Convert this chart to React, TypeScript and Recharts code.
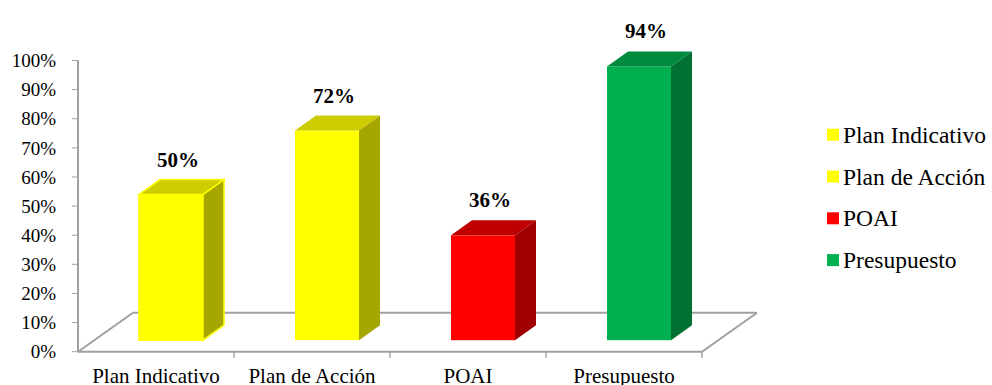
import { BarChart, Bar, XAxis, YAxis, Legend } from 'recharts';

const categories = ['Plan Indicativo', 'Plan de Acción', 'POAI', 'Presupuesto'];
const values = [50, 72, 36, 94];
const yTicks = [0, 10, 20, 30, 40, 50, 60, 70, 80, 90, 100];

const frontColors = ['#FFFF00', '#FFFF00', '#FF0000', '#00B050'];
const topColors = ['#CCCC00', '#CCCC00', '#C00000', '#008A3E'];
const sideColors = ['#A6A600', '#A6A600', '#A00000', '#007033'];
const edgeColors = ['#FFFF00', 'none', 'none', 'none'];

const data = categories.map((name, i) => ({ name, value: values[i] }));

const FONT = '"Liberation Serif", "Times New Roman", serif';
const GRAY = '#A0A0A0';

// 3d look: bar front face is a fraction of the band, pushed back into the floor
const BAR_FRAC = 64 / 156;
const SHIFT_X = 15;
const SHIFT_Y = 11.5;
const DEPTH_X = 21;
const DEPTH_Y = 15;
const FLOOR_X = 55;
const FLOOR_Y = 39;

function Bar3D(props: any) {
  const { x, y, width, height, index } = props;
  const w = width * BAR_FRAC;
  const left = x + (width - w) / 2 + SHIFT_X;
  const right = left + w;
  const top = y - SHIFT_Y;
  const bottom = y + height - SHIFT_Y;
  const edge = edgeColors[index];

  return (
    <g>
      <rect x={left} y={top} width={w} height={bottom - top} fill={frontColors[index]} stroke={edge} strokeWidth={1.5} />
      <polygon
        points={`${left},${top} ${left + DEPTH_X},${top - DEPTH_Y} ${right + DEPTH_X},${top - DEPTH_Y} ${right},${top}`}
        fill={topColors[index]}
        stroke={edge}
        strokeWidth={1.5}
      />
      <polygon
        points={`${right},${top} ${right + DEPTH_X},${top - DEPTH_Y} ${right + DEPTH_X},${bottom - DEPTH_Y} ${right},${bottom}`}
        fill={sideColors[index]}
        stroke={edge}
        strokeWidth={1.5}
      />
    </g>
  );
}

function Floor(props: any) {
  const { x, y, width, height, index } = props;
  const base = y + height;
  const last = data.length - 1;

  return (
    <g stroke={GRAY} strokeWidth={2} fill="none">
      <line x1={x + FLOOR_X} y1={base - FLOOR_Y} x2={x + width + FLOOR_X} y2={base - FLOOR_Y} />
      {index === 0 && <line x1={x} y1={base} x2={x + FLOOR_X} y2={base - FLOOR_Y} />}
      {index === last && <line x1={x + width} y1={base} x2={x + width + FLOOR_X} y2={base - FLOOR_Y} />}
      <line x1={x + width} y1={base} x2={x + width} y2={base + 6} strokeWidth={1.5} />
    </g>
  );
}

function ValueLabel(props: any) {
  const box = props.viewBox ?? props;
  const { x, y, width } = box;
  return (
    <text
      x={x + width / 2 + SHIFT_X + 7}
      y={y - SHIFT_Y - 28}
      textAnchor="middle"
      fontFamily={FONT}
      fontWeight="bold"
      fontSize={21}
      fill="#000"
    >
      {props.value}%
    </text>
  );
}

function CategoryTick(props: any) {
  const { x, y, payload } = props;
  return (
    <text x={x} y={y} dy={23} textAnchor="middle" fontFamily={FONT} fontSize={21} fill="#000">
      {payload.value}
    </text>
  );
}

function LegendBox() {
  return (
    <svg width={174} height={180}>
      {categories.map((name, i) => {
        const cy = 34.7 + i * 41.8;
        return (
          <g key={name}>
            <rect x={9} y={cy - 6} width={12} height={12} fill={frontColors[i]} />
            <text x={25} y={cy + 8} fontFamily={FONT} fontSize={23.5} fill="#000">
              {name}
            </text>
          </g>
        );
      })}
    </svg>
  );
}

export default function App() {
  return (
    <div style={{ position: 'absolute', left: 0, top: 0 }}>
      <BarChart
        width={992}
        height={385}
        data={data}
        barCategoryGap={0}
        margin={{ top: 60.5, right: 290, bottom: 3.3, left: 8 }}
      >
        <XAxis
          dataKey="name"
          axisLine={{ stroke: GRAY, strokeWidth: 2 }}
          tickLine={false}
          tick={<CategoryTick />}
          height={30}
          interval={0}
        />
        <YAxis
          domain={[0, 100]}
          ticks={yTicks}
          tickFormatter={(v) => `${v}%`}
          axisLine={{ stroke: GRAY, strokeWidth: 2 }}
          tickLine={{ stroke: GRAY }}
          tickSize={6}
          tickMargin={16}
          tick={{ fill: '#000', fontSize: 19, fontFamily: FONT }}
          width={70}
        />
        <Legend
          layout="vertical"
          align="center"
          verticalAlign="middle"
          wrapperStyle={{ left: 818, top: 100, width: 174 }}
          content={() => <LegendBox />}
        />
        <Bar
          dataKey="value"
          isAnimationActive={false}
          shape={(p: any) => <Bar3D {...p} />}
          background={(p: any) => <Floor {...p} />}
          label={(p: any) => <ValueLabel {...p} />}
        />
      </BarChart>
    </div>
  );
}
